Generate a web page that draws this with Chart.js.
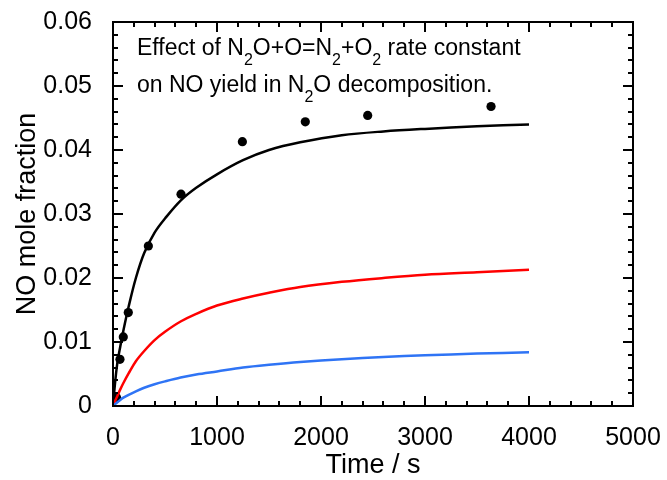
<!DOCTYPE html>
<html>
<head>
<meta charset="utf-8">
<script src="https://cdn.jsdelivr.net/npm/chart.js@4/dist/chart.umd.min.js"></script>
<style>
html,body{margin:0;padding:0;background:#fff;}
canvas{display:block;}
</style>
</head>
<body>
<canvas id="c" width="667" height="480"></canvas>
<script>
// ---- data ----
const curveTime  = [0, 15, 40, 70, 100, 150, 220, 300, 400, 500, 650, 800, 1000, 1250, 1500, 1800, 2200, 2600, 3000, 3500, 4000];
const blackCurve = [0, 0.0028, 0.0065, 0.0093, 0.0118, 0.0155, 0.0200, 0.0239, 0.0271, 0.0293, 0.0321, 0.0341, 0.0362, 0.0384, 0.0400, 0.0412, 0.0423, 0.0429, 0.0433, 0.0437, 0.0440];
const redCurve   = [0, 0.0006, 0.0015, 0.0026, 0.0036, 0.0051, 0.0070, 0.0086, 0.0103, 0.0116, 0.0132, 0.0144, 0.0157, 0.0168, 0.0177, 0.0186, 0.0194, 0.0200, 0.0205, 0.0209, 0.0213];
const blueCurve  = [0, 0.0002, 0.00055, 0.00095, 0.0013, 0.00175, 0.0023, 0.00285, 0.0034, 0.00385, 0.00445, 0.00492, 0.0054, 0.0060, 0.00643, 0.00686, 0.0073, 0.00765, 0.00792, 0.00819, 0.0084];
const expTime  = [35, 67, 99, 147, 340, 654, 1244, 1849, 2449, 3635];
const expValue = [0.0013, 0.0073, 0.0108, 0.0146, 0.0250, 0.0331, 0.0413, 0.0444, 0.0454, 0.0468];
const xTickLabels = ['0', '1000', '2000', '3000', '4000', '5000'];
const yTickLabels = ['0', '0.01', '0.02', '0.03', '0.04', '0.05', '0.06'];
const xTitle = 'Time / s';
const yTitle = 'NO mole fraction';

const FONT = 'Arial, "Liberation Sans", Helvetica, sans-serif';

function pts(xs, ys) { return xs.map((x, i) => ({x: x, y: ys[i]})); }

const framePlugin = {
  id: 'frame',
  afterDatasetsDraw(chart) {
    const ctx = chart.ctx, a = chart.chartArea;
    const xs = chart.scales.x, ys = chart.scales.y;
    ctx.save();
    ctx.strokeStyle = '#000';
    ctx.lineWidth = 2;
    ctx.strokeRect(a.left, a.top, a.right - a.left, a.bottom - a.top);
    ctx.beginPath();
    for (let i = 0; i <= 25; i++) {
      const v = i * 200;
      const p = Math.round(xs.getPixelForValue(v));
      const L = (i % 5 === 0) ? 10 : 5;
      ctx.moveTo(p, a.bottom); ctx.lineTo(p, a.bottom - L);
      ctx.moveTo(p, a.top); ctx.lineTo(p, a.top + L);
    }
    for (let i = 0; i <= 30; i++) {
      const v = i * 0.002;
      const p = Math.round(ys.getPixelForValue(v));
      const L = (i % 5 === 0) ? 10 : 5;
      ctx.moveTo(a.left, p); ctx.lineTo(a.left + L, p);
      ctx.moveTo(a.right, p); ctx.lineTo(a.right - L, p);
    }
    ctx.stroke();

    // axis titles
    ctx.fillStyle = '#000';
    ctx.font = '27px ' + FONT;
    ctx.textAlign = 'center';
    ctx.textBaseline = 'alphabetic';
    ctx.fillText(xTitle, (a.left + a.right) / 2, 473);
    ctx.save();
    ctx.translate(35, (a.top + a.bottom) / 2);
    ctx.rotate(-Math.PI / 2);
    ctx.fillText(yTitle, 0, 0);
    ctx.restore();

    // annotation with subscripts
    const main = '23px ' + FONT, sub = '16px ' + FONT;
    function line(parts, x, y) {
      ctx.textAlign = 'left';
      for (const [t, s] of parts) {
        ctx.font = s ? sub : main;
        ctx.fillText(t, x, s ? y + 10 : y);
        x += ctx.measureText(t).width;
      }
    }
    line([['Effect of N', 0], ['2', 1], ['O+O=N', 0], ['2', 1], ['+O', 0], ['2', 1], [' rate constant', 0]], 137, 55);
    line([['on NO yield in N', 0], ['2', 1], ['O decomposition.', 0]], 137, 92);
    ctx.restore();
  }
};

const lineStyle = {showLine: true, borderWidth: 2.5, pointRadius: 0, tension: 0.35, cubicInterpolationMode: 'default'};

new Chart(document.getElementById('c'), {
  type: 'scatter',
  data: {
    datasets: [
      Object.assign({data: pts(curveTime, blueCurve), borderColor: '#2f74f5'}, lineStyle),
      Object.assign({data: pts(curveTime, redCurve), borderColor: '#ff0000'}, lineStyle),
      Object.assign({data: pts(curveTime, blackCurve), borderColor: '#000000'}, lineStyle),
      {data: pts(expTime, expValue), showLine: false, pointRadius: 4.6, pointBackgroundColor: '#000', pointBorderWidth: 0, pointBorderColor: '#000', clip: false}
    ]
  },
  options: {
    responsive: false,
    animation: false,
    events: [],
    layout: {padding: {left: 0, top: 22, right: 34, bottom: 0}},
    plugins: {legend: {display: false}, tooltip: {enabled: false}},
    scales: {
      x: {
        type: 'linear', min: 0, max: 5000,
        grid: {display: false}, border: {display: false},
        afterBuildTicks: s => { s.ticks = xTickLabels.map(t => ({value: Number(t)})); },
        afterFit: s => { s.height = 74; s.paddingLeft = 0; s.paddingRight = 0; },
        ticks: {padding: 9, color: '#000', font: {family: FONT, size: 25}, maxRotation: 0,
                callback: (v, i) => xTickLabels[i]}
      },
      y: {
        type: 'linear', min: 0, max: 0.06,
        grid: {display: false}, border: {display: false},
        afterBuildTicks: s => { s.ticks = yTickLabels.map(t => ({value: Number(t)})); },
        afterFit: s => { s.width = 113; s.paddingTop = 0; s.paddingBottom = 0; },
        ticks: {padding: 13, color: '#000', font: {family: FONT, size: 25},
                callback: (v, i) => yTickLabels[i]}
      }
    }
  },
  plugins: [framePlugin]
});
</script>
</body>
</html>
